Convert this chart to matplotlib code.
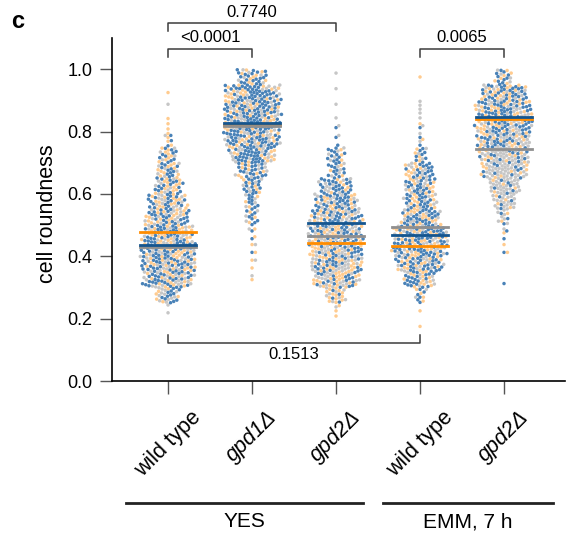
import numpy as np
import matplotlib
matplotlib.use("Agg")
import matplotlib.pyplot as plt
import matplotlib.colors as mcolors

plt.rcParams['font.family'] = ['Liberation Sans', 'DejaVu Sans']

# categories and group labels
categories = ['wild type', 'gpd1Δ', 'gpd2Δ', 'wild type', 'gpd2Δ']
italic = [False, True, True, False, True]
media = ['YES', 'EMM, 7 h']

# histogram bins (lower edges, width 0.05) used to store counts
bin_lo = [0.15, 0.20, 0.25, 0.30, 0.35, 0.40, 0.45, 0.50, 0.55,
          0.60, 0.65, 0.70, 0.75, 0.80, 0.85, 0.90, 0.95]
bin_w = 0.05

# counts per bin, one list per group and replicate (blue / orange / grey)
wt_yes_blue = [0, 0, 12, 30, 34, 34, 28, 24, 20, 15, 12, 10, 3, 0, 0, 0, 0]
wt_yes_orange = [0, 0, 6, 15, 18, 20, 20, 17, 16, 13, 10, 8, 4, 3, 0, 1, 0]
wt_yes_grey = [0, 2, 12, 20, 20, 18, 17, 14, 12, 7, 6, 4, 1, 0, 1, 0, 0]

gpd1_yes_blue = [0, 0, 0, 0, 0, 1, 2, 8, 9, 14, 20, 34, 40, 42, 42, 40, 20]
gpd1_yes_orange = [0, 0, 0, 1, 2, 2, 2, 3, 3, 5, 8, 12, 14, 15, 15, 16, 9]
gpd1_yes_grey = [0, 0, 0, 1, 1, 1, 1, 3, 4, 5, 8, 14, 18, 18, 18, 14, 6]

gpd2_yes_blue = [0, 0, 4, 18, 22, 26, 28, 30, 28, 24, 12, 12, 2, 1, 0, 0, 0]
gpd2_yes_orange = [0, 3, 13, 22, 20, 20, 18, 16, 12, 6, 3, 3, 0, 0, 0, 0, 0]
gpd2_yes_grey = [0, 1, 8, 20, 26, 24, 24, 20, 15, 10, 5, 5, 1, 2, 1, 1, 1]

wt_emm_blue = [0, 0, 6, 20, 30, 36, 34, 26, 20, 18, 17, 8, 2, 1, 0, 0, 0]
wt_emm_orange = [1, 1, 4, 12, 16, 18, 18, 14, 12, 10, 10, 4, 1, 1, 0, 0, 1]
wt_emm_grey = [0, 0, 2, 8, 14, 16, 16, 10, 8, 10, 8, 3, 2, 2, 4, 0, 0]

gpd2_emm_blue = [0, 0, 0, 1, 0, 1, 2, 3, 4, 6, 10, 16, 28, 34, 36, 30, 10]
gpd2_emm_orange = [0, 0, 0, 0, 0, 2, 1, 2, 4, 4, 10, 12, 16, 18, 20, 18, 6]
gpd2_emm_grey = [0, 0, 0, 0, 0, 0, 1, 7, 20, 30, 40, 37, 26, 20, 16, 12, 4]

# replicate means (horizontal bars)
mean_orange = [0.478, 0.822, 0.442, 0.433, 0.840]
mean_grey = [0.430, 0.817, 0.465, 0.494, 0.744]
mean_blue = [0.436, 0.827, 0.506, 0.468, 0.846]

# p-value brackets: (x1, x2, p)
brackets_top = [(0, 1, '<0.0001'), (0, 2, '0.7740'), (3, 4, '0.0065')]
bracket_bottom = (0, 3, '0.1513')

groups = [
    (wt_yes_blue, wt_yes_orange, wt_yes_grey),
    (gpd1_yes_blue, gpd1_yes_orange, gpd1_yes_grey),
    (gpd2_yes_blue, gpd2_yes_orange, gpd2_yes_grey),
    (wt_emm_blue, wt_emm_orange, wt_emm_grey),
    (gpd2_emm_blue, gpd2_emm_orange, gpd2_emm_grey),
]

pt_colors = [mcolors.to_rgba('#3574b0', 0.9),
             mcolors.to_rgba('#ffbf73', 0.8),
             mcolors.to_rgba('#b8b8b8', 0.8)]
line_colors = {'orange': '#ff8c00', 'grey': '#8f8f8f', 'blue': '#14558f'}


def expand(counts, r):
    vals = []
    for lo, n in zip(bin_lo, counts):
        for k in range(n):
            vals.append(lo + bin_w * (k + 0.25 + 0.25 * r) / n)
    return vals


def swarm(ypx, d):
    order = np.argsort(ypx, kind='stable')
    xs = np.zeros(len(ypx))
    placed = []
    for i in order:
        y = ypx[i]
        near = [j for j in placed[-400:] if abs(ypx[j] - y) < d]
        cands = [0.0]
        for j in near:
            dx = np.sqrt(d * d - (ypx[j] - y) ** 2)
            cands += [xs[j] + dx, xs[j] - dx]
        cands.sort(key=abs)
        for c in cands:
            ok = True
            for j in near:
                if (xs[j] - c) ** 2 + (ypx[j] - y) ** 2 < d * d - 1e-6:
                    ok = False
                    break
            if ok:
                xs[i] = c
                break
        placed.append(i)
    return xs


fig = plt.figure(figsize=(5.66, 5.34), dpi=100)
ax = fig.add_axes([112 / 566, 153 / 534, 453 / 566, 343 / 534])
ax.set_xlim(-0.667, 4.726)
ax.set_ylim(0, 1.1)

p0 = ax.transData.transform((0, 0))
p1 = ax.transData.transform((1, 1))
px_x = p1[0] - p0[0]
px_y = p1[1] - p0[1]

d = 3.4
for gi, reps in enumerate(groups):
    vals, cols = [], []
    for r, counts in enumerate(reps):
        v = expand(counts, r)
        vals += v
        cols += [pt_colors[r]] * len(v)
    vals = np.array(vals)
    offs = swarm(vals * px_y, d)
    order = np.argsort(vals, kind='stable')
    ax.scatter(gi + offs[order] / px_x, vals[order], s=6.3,
               c=[cols[i] for i in order], linewidths=0, zorder=2)

hw = 0.33
for gi in range(len(categories)):
    ax.plot([gi - hw, gi + hw], [mean_orange[gi]] * 2, color=line_colors['orange'], lw=2, zorder=3)
    ax.plot([gi - hw, gi + hw], [mean_grey[gi]] * 2, color=line_colors['grey'], lw=2, zorder=3)
    ax.plot([gi - hw, gi + hw], [mean_blue[gi]] * 2, color=line_colors['blue'], lw=2, zorder=3)

# brackets
bc = '#3c3c3c'
levels = [1.064, 1.147, 1.064]
for (a, b, p), yl in zip(brackets_top, levels):
    ax.plot([a, a, b, b], [yl - 0.025, yl, yl, yl - 0.025], color=bc, lw=1.1, clip_on=False)
    ax.text((a + b) / 2, yl + 0.012, p, ha='center', va='bottom', fontsize=12)
a, b, p = bracket_bottom
ax.plot([a, a, b, b], [0.147, 0.122, 0.122, 0.147], color=bc, lw=1.1, clip_on=False)
ax.text((a + b) / 2, 0.108, p, ha='center', va='top', fontsize=12)

# axes styling
for s in ['top', 'right']:
    ax.spines[s].set_visible(False)
for s in ['left', 'bottom']:
    ax.spines[s].set_linewidth(1.2)
ax.set_yticks(np.arange(0, 1.01, 0.2))
ax.set_yticklabels(['%.1f' % t for t in np.arange(0, 1.01, 0.2)])
ax.tick_params(axis='y', length=9, width=1, color='#555555', labelsize=13, pad=5)
ax.set_xticks(range(len(categories)))
ax.set_xticklabels(categories, rotation=45, ha='center', va='top')
ax.tick_params(axis='x', length=9, width=1, color='#555555', labelsize=15.5, pad=10)
for lbl, it in zip(ax.get_xticklabels(), italic):
    if it:
        lbl.set_style('italic')
ax.set_ylabel('cell roundness', fontsize=15.5)
ax.yaxis.set_label_coords(-0.12, 0.487)

# medium group lines
tr = ax.get_xaxis_transform()
ax.plot([-0.5, 2.32], [-0.356, -0.356], transform=tr, color='#222222', lw=2, clip_on=False)
ax.plot([2.56, 4.58], [-0.356, -0.356], transform=tr, color='#222222', lw=2, clip_on=False)
ax.text(0.91, -0.411, media[0], transform=tr, ha='center', va='center', fontsize=15)
ax.text(3.57, -0.411, media[1], transform=tr, ha='center', va='center', fontsize=15)

fig.text(18 / 566, 1 - 22 / 534, 'c', fontsize=17, fontweight='bold', ha='center', va='center')

fig.savefig('out.png', dpi=100)
